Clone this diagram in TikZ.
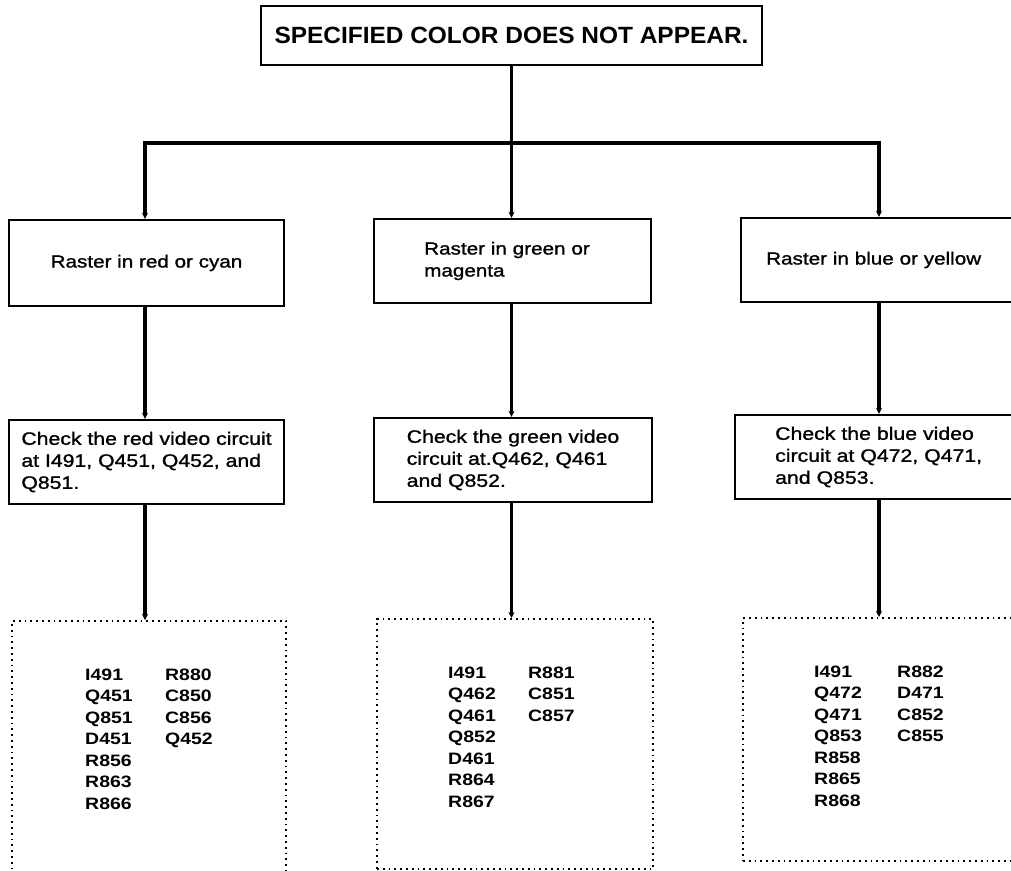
\documentclass[tikz,border=0pt]{standalone}
\usepackage{fontspec}
\usetikzlibrary{arrows.meta}
\newfontfamily\ttlf{Liberation Sans}[FakeStretch=1.04]
\newfontfamily\bxf{Liberation Sans}[FakeStretch=1.18,FakeBold=1.2]
\newfontfamily\lsf{Liberation Sans}[FakeStretch=1.18]
\tikzset{
  solidbox/.style={draw, line width=2.4pt, rectangle, inner sep=0pt, align=left},
  dotbox/.style={draw, line width=1.8pt, dash pattern=on 1.8pt off 4pt, rectangle, inner sep=0pt},
  conn/.style={line width=3.4pt, line join=miter},
  arr/.style={-{Stealth[length=6pt,width=6pt]}},
  r1txt/.style={font=\bxf\fontsize{17.5}{22}\selectfont},
  r2txt/.style={font=\bxf\fontsize{18}{22}\selectfont},
  listtxt/.style={font=\lsf\bfseries\fontsize{16.5}{21.5}\selectfont, inner sep=0pt, anchor=base west}
}
\begin{document}
\begin{tikzpicture}[x=1pt,y=-1pt]
\useasboundingbox (0,0) rectangle (1011,870);
\clip (0,0) rectangle (1011,870);
\fill[white] (0,0) rectangle (1011,870);

% title
\node[solidbox, line width=2.8pt, minimum width=501pt, minimum height=59pt,
      font=\ttlf\bfseries\fontsize{23.5}{26}\selectfont] (title) at (511.5,35.5)
      {SPECIFIED COLOR DOES NOT APPEAR.};

% row 1
\node[solidbox, r1txt, minimum width=275pt, minimum height=86pt] (r1a) at (146.5,263)
      {Raster in red or cyan};
\node[solidbox, r1txt, anchor=west, inner xsep=50pt, text width=177pt, minimum height=84pt] (r1b) at (373,261)
      {Raster in green or\\magenta};
\node[solidbox, r1txt, anchor=west, inner xsep=25pt, text width=260pt, minimum height=84pt] (r1c) at (740,260)
      {Raster in blue or yellow};

% row 2
\node[solidbox, r2txt, minimum width=275pt, minimum height=84pt] (r2a) at (146.5,462)
      {Check the red video circuit\\at I491, Q451, Q452, and\\Q851.};
\node[solidbox, r2txt, minimum width=278pt, minimum height=84pt] (r2b) at (513,460)
      {Check the green video\\circuit at.Q462, Q461\\and Q852.};
\node[solidbox, r2txt, anchor=west, inner xsep=40pt, text width=240pt, minimum height=84pt] (r2c) at (734,457)
      {Check the blue video\\circuit at Q472, Q471,\\and Q853.};

% row 3 (dotted parts lists)
\node[dotbox, anchor=north west, minimum width=274pt, minimum height=290pt] (r3a) at (11,620) {};
\node[dotbox, anchor=north west, minimum width=276pt, minimum height=250pt] (r3b) at (376,618) {};
\node[dotbox, anchor=north west, minimum width=300pt, minimum height=243pt] (r3c) at (742,617) {};

\node[listtxt] (t3a) at (85,680)
  {\begin{tabular}[t]{@{}p{80pt}@{}l@{}}
   I491 & R880\\ Q451 & C850\\ Q851 & C856\\ D451 & Q452\\ R856 & \\ R863 & \\ R866 &
   \end{tabular}};
\node[listtxt] (t3b) at (448,678)
  {\begin{tabular}[t]{@{}p{80pt}@{}l@{}}
   I491 & R881\\ Q462 & C851\\ Q461 & C857\\ Q852 & \\ D461 & \\ R864 & \\ R867 &
   \end{tabular}};
\node[listtxt] (t3c) at (814,677)
  {\begin{tabular}[t]{@{}p{83pt}@{}l@{}}
   I491 & R882\\ Q472 & D471\\ Q471 & C852\\ Q853 & C855\\ R858 & \\ R865 & \\ R868 &
   \end{tabular}};

% connectors
\coordinate (bl) at (145,143);
\coordinate (bm) at (511.5,143);
\coordinate (br) at (879,143);
\draw[conn] (title.south) -- (bm);
\draw[conn, arr] (bm) -- (bl) -- (bl |- r1a.north);
\draw[conn, arr] (bm) -- (br) -- (br |- r1c.north);
\draw[conn, arr] (bm) -- (bm |- r1b.north);

\draw[conn, arr] (bl |- r1a.south) -- (bl |- r2a.north);
\draw[conn, arr] (bm |- r1b.south) -- (bm |- r2b.north);
\draw[conn, arr] (br |- r1c.south) -- (br |- r2c.north);

\draw[conn, arr] (bl |- r2a.south) -- (bl |- r3a.north);
\draw[conn, arr] (bm |- r2b.south) -- (bm |- r3b.north);
\draw[conn, arr] (br |- r2c.south) -- (br |- r3c.north);
\end{tikzpicture}
\end{document}
